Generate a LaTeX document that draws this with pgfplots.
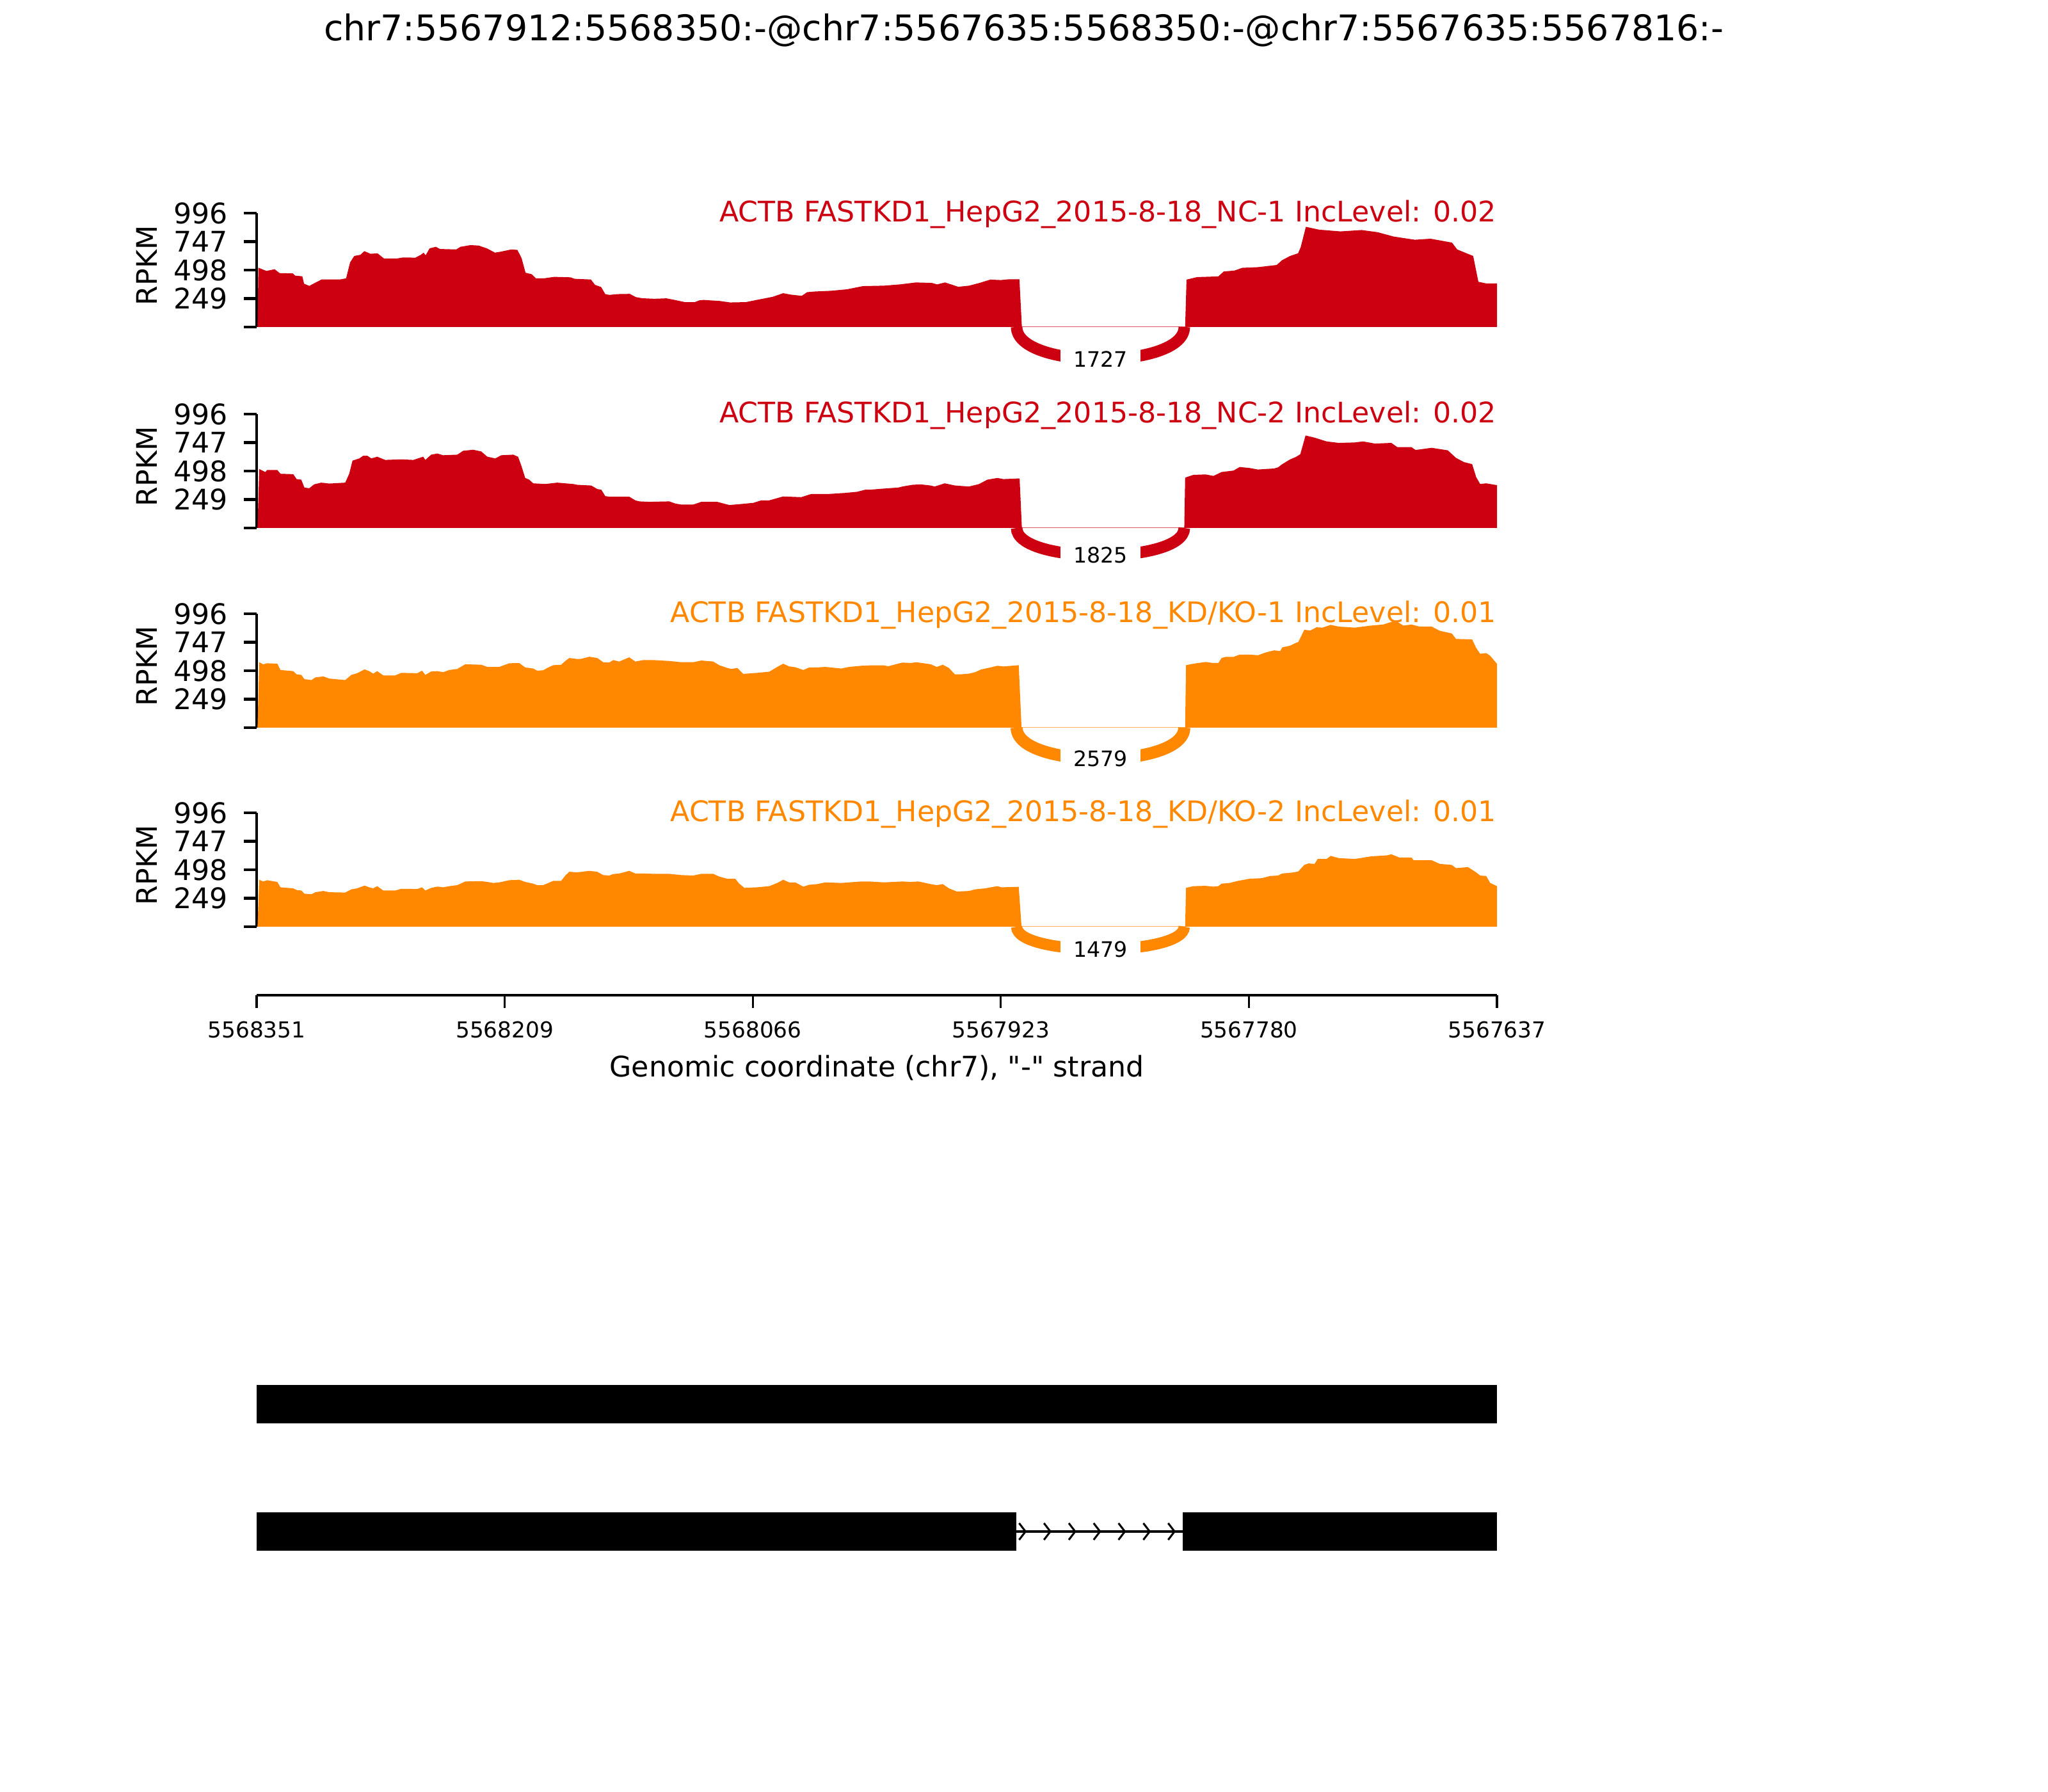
\documentclass[border=0pt]{standalone}
\usepackage{fontspec}
\setmainfont{DejaVu Sans}[Ligatures=TeXOff]
\usepackage{pgfplots}
\pgfplotsset{compat=1.18}
\definecolor{ncred}{RGB}{204,0,17}
\definecolor{kdorange}{RGB}{255,136,0}
\pgfdeclareplotmark{chev}{%
  \pgfpathmoveto{\pgfqpoint{-1.8pt}{2.35pt}}%
  \pgfpathlineto{\pgfqpoint{0pt}{0pt}}%
  \pgfpathlineto{\pgfqpoint{-1.8pt}{-2.35pt}}%
  \pgfusepathqstroke}
\newcommand{\fe}{\fontsize{8}{9.6}\selectfont}
\newcommand{\fs}{\fontsize{6}{7.2}\selectfont}
\pgfplotsset{
  panel/.style={
    scale only axis, width=350.15pt, height=32.11pt,
    xmin=0, xmax=714, ymin=0, ymax=996,
    anchor=south west, clip=false,
    axis x line=none, axis y line*=left,
    y axis line style={-, line width=0.8pt},
    ytick={0,249,498,747,996}, yticklabels={,249,498,747,996},
    tick align=outside, major tick length=3.6pt,
    ytick style={line width=0.8pt, black},
    yticklabel style={font=\fe, inner sep=0pt, xshift=-4.3pt},
    xtick=\empty,
  }
}
\begin{document}
\begin{tikzpicture}
\path[use as bounding box] (0,0) rectangle (578.16pt,505.89pt);
\node[anchor=base, font=\fontsize{10}{12}\selectfont, inner sep=0pt] at (289.08pt,494.5pt) {chr7:5567912:5568350:-@chr7:5567635:5568350:-@chr7:5567635:5567816:-};

% Panel 1
\begin{axis}[panel, at={(72.45pt,413.57pt)}]
\addplot[fill=ncred, draw=none] coordinates {(0.5,0) (1,519) (5.65,491) (10.35,506) (13.2,472) (20.9,469) (22.1,450) (26.3,444) (27.3,379) (30.3,360) (33.8,388) (37.4,416) (47.9,416) (51.5,426) (53.8,566) (56.2,622) (59.7,632) (62.0,664) (65.6,641) (69.6,645) (73.3,600) (80.8,600) (84.4,609) (91.4,607) (94.5,632) (96.1,651) (97.3,628) (99.6,689) (103.2,702) (105.5,683) (114.9,679) (117.3,702) (123.1,717) (127.8,713) (132.5,689) (137.2,651) (140.7,660) (146.6,679) (150.1,675) (152.5,604) (154.8,475) (158.4,462) (160.7,426) (165.4,426) (171.3,439) (180.7,435) (183.0,422) (192.4,416) (194.8,369) (198.3,350) (200.7,288) (203.0,281) (207.7,288) (214.8,290) (218.3,262) (221.8,252) (228.9,247) (235.9,251) (240.6,237) (246.5,218) (252.3,218) (254.7,233) (257.3,237) (266.5,228) (272.6,215) (281.7,218) (287.8,237) (297.0,264) (303.1,296) (307.7,283) (313.8,273) (316.9,305) (321.5,311) (330.6,317) (339.8,330) (349.0,358) (361.2,362) (370.3,373) (379.5,390) (388.7,386) (391.7,373) (396.3,390) (403.9,352) (410.1,362) (416.2,386) (422.3,415) (428.4,411) (433.0,418) (439.1,418) (440.5,3) (534.5,3) (535.3,415) (541.4,437) (553.6,443) (556.7,486) (562.8,494) (567.4,518) (576.5,524) (587.2,543) (590.3,585) (594.9,622) (599.5,645) (601.0,698) (604.0,877) (611.7,852) (623.9,837) (636.1,849) (645.3,830) (654.5,792) (666.7,764) (675.8,773) (688.1,739) (691.1,679) (697.2,641) (700.3,622) (703.3,396) (707.9,381) (714,381) (714,0)};
\draw[ncred, line width=3.24pt] (axis cs:437.5,0) .. controls (axis cs:437.5,-376) and (axis cs:534,-376) .. (axis cs:534,0);
\node[fill=white, inner xsep=3.7pt, inner ysep=1.5pt, font=\fs] at (axis cs:485.75,-282) {1727};
\node[anchor=base east, inner sep=0pt, font=\fe, text=ncred] at (rel axis cs:1,0.925) {ACTB FASTKD1\_HepG2\_2015-8-18\_NC-1 IncLevel: 0.02};
\node[xshift=-31.08pt, rotate=90, font=\fe, inner sep=0pt] at (rel axis cs:0,0.54) {RPKM};
\end{axis}

% Panel 2
\begin{axis}[panel, at={(72.45pt,356.83pt)}]
\addplot[fill=ncred, draw=none] coordinates {(0.5,0) (1.5,516) (5.0,490) (6.1,508) (11.9,508) (13.7,475) (21.1,471) (23.0,428) (25.7,423) (27.5,354) (30.3,348) (33.1,382) (37.2,397) (41.8,389) (51.0,397) (53.3,475) (55.2,590) (59.1,609) (61.4,633) (63.7,633) (66.0,609) (69.4,624) (74.0,596) (83.3,601) (90.2,596) (95.9,624) (97.1,596) (100.5,642) (104.0,652) (107.4,637) (115.5,642) (118.9,676) (124.7,685) (129.3,670) (132.8,624) (137.4,609) (140.8,637) (147.7,642) (150.5,624) (152.3,549) (154.6,438) (156.9,423) (159.2,391) (166.1,385) (173.0,397) (182.3,385) (184.6,378) (192.6,372) (196.1,341) (198.4,335) (200.7,279) (203.0,274) (214.5,274) (218.0,242) (220.3,233) (226.0,229) (237.5,233) (241.0,214) (244.4,205) (251.3,205) (256.0,229) (265.1,229) (272.1,201) (279.0,210) (285.9,220) (290.5,242) (295.1,242) (303.1,276) (313.5,270) (319.3,298) (329.6,298) (338.8,307) (345.7,317) (350.3,335) (353.1,335) (360.1,344) (369.4,354) (371.7,363) (377.5,378) (382.2,382) (388.0,372) (390.3,363) (396.1,391) (402.0,372) (410.1,363) (415.9,385) (420.6,423) (426.4,438) (429.9,428) (439.2,434) (440.5,3) (534.0,3) (534.5,441) (539.2,465) (546.2,469) (550.8,456) (555.5,490) (562.4,503) (565.9,534) (571.7,525) (576.4,512) (585.7,521) (588.0,531) (590.4,559) (595.0,601) (598.5,624) (600.8,646) (603.8,810) (609.0,791) (615.9,758) (622.9,745) (632.2,749) (636.9,758) (643.8,739) (653.2,745) (656.6,708) (664.8,708) (667.1,683) (676.4,702) (685.7,680) (690.4,614) (695.0,577) (699.7,559) (702.0,447) (704.3,385) (707.8,391) (713.6,376) (714,376) (714,0)};
\draw[ncred, line width=3.26pt] (axis cs:437.5,0) .. controls (axis cs:437.5,-320) and (axis cs:534,-320) .. (axis cs:534,0);
\node[fill=white, inner xsep=3.7pt, inner ysep=1.5pt, font=\fs] at (axis cs:485.75,-240) {1825};
\node[anchor=base east, inner sep=0pt, font=\fe, text=ncred] at (rel axis cs:1,0.925) {ACTB FASTKD1\_HepG2\_2015-8-18\_NC-2 IncLevel: 0.02};
\node[xshift=-31.08pt, rotate=90, font=\fe, inner sep=0pt] at (rel axis cs:0,0.54) {RPKM};
\end{axis}

% Panel 3
\begin{axis}[panel, at={(72.45pt,300.46pt)}]
\addplot[fill=kdorange, draw=none] coordinates {(0.5,0) (1.5,573) (3.8,555) (6.1,564) (11.9,560) (13.7,505) (21.1,495) (23.0,467) (25.7,462) (27.5,425) (31.5,417) (33.8,440) (38.4,449) (41.8,430) (51.0,417) (54.5,462) (57.9,477) (62.1,510) (64.8,495) (67.1,473) (69.4,495) (72.9,458) (79.8,458) (83.3,480) (92.5,477) (95.2,499) (97.1,462) (100.5,492) (104.0,495) (107.4,486) (110.9,505) (115.5,514) (120.1,555) (129.3,551) (132.8,532) (136.2,532) (139.7,532) (145.4,564) (151.2,566) (154.6,527) (159.2,518) (161.5,499) (165.0,503) (167.3,523) (170.7,547) (175.3,551) (177.7,584) (180.0,610) (184.6,601) (186.9,603) (191.5,621) (196.1,610) (199.5,573) (203.0,570) (205.3,592) (208.7,579) (214.5,616) (218.0,579) (222.6,592) (228.3,592) (237.5,584) (244.4,573) (251.3,573) (256.0,588) (262.8,579) (266.3,547) (270.9,523) (273.2,514) (276.7,523) (280.1,471) (288.2,480) (295.1,490) (299.7,532) (303.1,560) (306.6,536) (310.1,529) (314.7,505) (318.1,527) (322.7,527) (327.3,532) (336.5,518) (341.1,532) (348.0,542) (352.6,545) (361.2,545) (363.6,538) (371.7,570) (376.4,566) (379.8,573) (388.0,555) (391.5,532) (395.0,551) (398.5,523) (401.9,467) (405.4,467) (410.1,473) (413.6,486) (417.1,510) (422.9,529) (426.4,542) (429.9,536) (438.7,547) (440.3,3) (534.5,3) (535.0,547) (539.2,560) (546.2,575) (550.8,566) (553.6,566) (555.5,610) (557.8,620) (562.4,620) (565.9,640) (571.7,640) (576.4,634) (581.0,659) (585.7,677) (589.2,671) (590.4,703) (595.0,718) (597.3,736) (599.7,751) (603.1,857) (606.6,851) (610.1,879) (613.6,876) (618.3,900) (622.9,885) (632.2,876) (641.5,894) (648.5,903) (655.5,937) (660.1,894) (664.8,903) (669.4,885) (676.4,885) (681.1,848) (688.0,825) (690.4,777) (699.7,773) (702.0,699) (704.3,647) (707.8,653) (710.1,629) (713.6,566) (714,560) (714,0)};
\draw[kdorange, line width=3.41pt] (axis cs:437.5,0) .. controls (axis cs:437.5,-364) and (axis cs:534,-364) .. (axis cs:534,0);
\node[fill=white, inner xsep=3.7pt, inner ysep=1.5pt, font=\fs] at (axis cs:485.75,-273) {2579};
\node[anchor=base east, inner sep=0pt, font=\fe, text=kdorange] at (rel axis cs:1,0.925) {ACTB FASTKD1\_HepG2\_2015-8-18\_KD/KO-1 IncLevel: 0.01};
\node[xshift=-31.08pt, rotate=90, font=\fe, inner sep=0pt] at (rel axis cs:0,0.54) {RPKM};
\end{axis}

% Panel 4
\begin{axis}[panel, at={(72.45pt,244.27pt)}]
\addplot[fill=kdorange, draw=none] coordinates {(0.5,0) (1.5,411) (3.8,396) (6.1,407) (11.9,392) (13.7,345) (21.1,336) (23.0,321) (25.7,317) (27.5,289) (31.5,284) (33.8,302) (38.4,313) (41.8,302) (51.0,299) (54.5,327) (57.9,336) (62.1,360) (64.8,345) (67.1,336) (69.4,355) (72.9,317) (79.8,317) (83.3,332) (92.5,330) (95.2,345) (97.1,317) (100.5,340) (104.0,351) (107.4,345) (110.9,355) (115.5,364) (120.1,396) (129.3,399) (132.8,392) (136.2,383) (139.7,388) (145.4,407) (151.2,411) (154.6,392) (159.2,377) (161.5,364) (165.0,364) (167.3,379) (170.7,401) (175.3,401) (177.7,448) (180.0,481) (184.6,476) (191.5,489) (196.1,481) (199.5,452) (203.0,448) (205.3,461) (208.7,466) (214.5,489) (218.0,466) (222.6,466) (228.3,463) (237.5,463) (244.4,452) (251.3,448) (256.0,463) (262.8,463) (266.3,439) (270.9,420) (275.5,420) (277.8,377) (280.8,340) (288.2,345) (295.1,355) (299.7,383) (303.1,411) (306.6,388) (310.1,388) (314.7,351) (318.1,367) (322.7,373) (327.3,388) (336.5,383) (341.1,388) (348.0,396) (352.6,396) (356.8,392) (361.2,388) (371.7,396) (376.4,392) (381.0,396) (388.0,373) (391.5,364) (395.0,373) (398.5,336) (403.1,308) (410.1,313) (413.6,327) (419.4,336) (426.4,355) (428.7,345) (438.7,349) (440.3,3) (534.5,3) (535.0,340) (539.2,355) (546.2,358) (550.8,351) (553.6,355) (555.5,377) (560.1,383) (564.8,401) (571.7,420) (578.7,425) (583.4,444) (588.0,448) (590.4,466) (597.3,476) (599.7,485) (603.1,541) (605.5,554) (609.0,550) (610.8,593) (615.9,593) (618.3,620) (622.9,601) (632.2,593) (641.5,616) (650.8,625) (653.2,634) (657.8,606) (664.8,606) (666.0,582) (676.4,582) (681.1,550) (688.0,541) (690.4,513) (697.3,522) (702.0,476) (704.3,448) (707.8,444) (710.1,383) (713.6,358) (714,355) (714,0)};
\draw[kdorange, line width=3.17pt] (axis cs:437.5,0) .. controls (axis cs:437.5,-263) and (axis cs:534,-263) .. (axis cs:534,0);
\node[fill=white, inner xsep=3.7pt, inner ysep=1.5pt, font=\fs] at (axis cs:485.75,-197) {1479};
\node[anchor=base east, inner sep=0pt, font=\fe, text=kdorange] at (rel axis cs:1,0.925) {ACTB FASTKD1\_HepG2\_2015-8-18\_KD/KO-2 IncLevel: 0.01};
\node[xshift=-31.08pt, rotate=90, font=\fe, inner sep=0pt] at (rel axis cs:0,0.54) {RPKM};
\end{axis}

% Genomic coordinate axis
\begin{axis}[scale only axis, width=350.15pt, height=10pt, at={(72.45pt,224.94pt)}, anchor=south west,
  xmin=0, xmax=714, ymin=0, ymax=1, axis x line*=bottom, axis y line=none,
  x axis line style={-, line width=0.8pt},
  xtick={0,142.8,285.6,428.4,571.2,714},
  xticklabels={5568351,5568209,5568066,5567923,5567780,5567637},
  tick align=outside, major tick length=3.6pt, xtick style={line width=0.6pt, black},
  xticklabel style={font=\fontsize{6.2}{7.4}\selectfont, inner sep=0pt, yshift=-3.6pt}, clip=false]
\addplot[draw=none] coordinates {(0,0) (714,0)};
\node[anchor=base, font=\fe, inner sep=0pt] at (rel axis cs:0.5,0) [yshift=-23.1pt] {Genomic coordinate (chr7), \symbol{34}-\symbol{34} strand};
\end{axis}

% Gene structure
\begin{axis}[scale only axis, width=350.15pt, height=54.2pt, at={(72.45pt,63.24pt)}, anchor=south west,
  xmin=0, xmax=714, ymin=-2450, ymax=-2150, hide axis, clip=false]
\addplot[fill=black, draw=none] coordinates {(0,-2224) (0,-2164) (714,-2164) (714,-2224)};
\addplot[fill=black, draw=none] coordinates {(0,-2423) (0,-2363) (437.3,-2363) (437.3,-2423)};
\addplot[fill=black, draw=none] coordinates {(533,-2423) (533,-2363) (714,-2363) (714,-2423)};
\addplot[black, line width=0.7pt] coordinates {(437.3,-2393) (533,-2393)};
\addplot[only marks, mark=chev, black, mark options={line width=0.55pt}] coordinates {(442.6,-2393) (456.9,-2393) (471.2,-2393) (485.5,-2393) (499.8,-2393) (514.1,-2393) (528.4,-2393)};
\end{axis}
\end{tikzpicture}
\end{document}
